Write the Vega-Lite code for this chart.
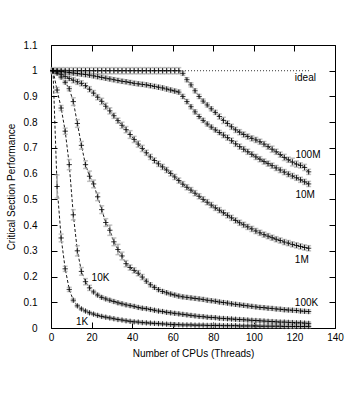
{
"$schema":"https://vega.github.io/schema/vega-lite/v6.json",
"width":284,"height":283,
"autosize":{"type":"none"},
"padding":{"left":51,"top":45,"right":17,"bottom":65},
"background":"white",
"config":{"view":{"stroke":"black","strokeWidth":1},
"font":"Liberation Sans",
"axis":{"labelFont":"Liberation Sans","labelFontSize":10,"labelColor":"black","titleFont":"Liberation Sans","titleFontSize":10,"titleFontWeight":"normal","titleColor":"black","tickColor":"black","tickSize":-6,"domain":false,"grid":false,"labelFlush":false}},
"datasets":{
"ideal":[{"x":1,"y":1},{"x":128,"y":1}],
"lab":[{"t":"ideal","x":120.2,"y":0.972},{"t":"100M","x":120.5,"y":0.673},{"t":"10M","x":120.5,"y":0.517},{"t":"1M","x":120.2,"y":0.263},{"t":"100K","x":120.2,"y":0.096},{"t":"10K","x":20,"y":0.195},{"t":"1K","x":12.3,"y":0.025}],
"d":[
{"s":"1K","x":1,"y":1,"e":0.003},{"s":"1K","x":3,"y":0.55,"e":0.045},{"s":"1K","x":5,"y":0.35,"e":0.015},{"s":"1K","x":7,"y":0.23,"e":0.01},{"s":"1K","x":9,"y":0.15,"e":0.008},{"s":"1K","x":11,"y":0.108,"e":0.006},{"s":"1K","x":13,"y":0.086,"e":0.005},{"s":"1K","x":15,"y":0.074,"e":0.005},{"s":"1K","x":17,"y":0.066,"e":0.005},{"s":"1K","x":19,"y":0.059,"e":0.005},{"s":"1K","x":21,"y":0.054,"e":0.005},{"s":"1K","x":23,"y":0.049,"e":0.005},{"s":"1K","x":25,"y":0.045,"e":0.005},{"s":"1K","x":27,"y":0.042,"e":0.005},{"s":"1K","x":29,"y":0.039,"e":0.005},{"s":"1K","x":31,"y":0.036,"e":0.005},{"s":"1K","x":33,"y":0.033,"e":0.005},{"s":"1K","x":35,"y":0.031,"e":0.005},{"s":"1K","x":37,"y":0.028,"e":0.005},{"s":"1K","x":39,"y":0.026,"e":0.005},{"s":"1K","x":41,"y":0.024,"e":0.005},{"s":"1K","x":43,"y":0.023,"e":0.005},{"s":"1K","x":45,"y":0.021,"e":0.005},{"s":"1K","x":47,"y":0.02,"e":0.005},{"s":"1K","x":49,"y":0.019,"e":0.005},{"s":"1K","x":51,"y":0.018,"e":0.005},{"s":"1K","x":53,"y":0.017,"e":0.005},{"s":"1K","x":55,"y":0.016,"e":0.005},{"s":"1K","x":57,"y":0.015,"e":0.005},{"s":"1K","x":59,"y":0.014,"e":0.006},{"s":"1K","x":61,"y":0.013,"e":0.005},{"s":"1K","x":63,"y":0.013,"e":0.005},{"s":"1K","x":65,"y":0.012,"e":0.005},{"s":"1K","x":67,"y":0.012,"e":0.005},{"s":"1K","x":69,"y":0.012,"e":0.005},{"s":"1K","x":71,"y":0.011,"e":0.005},{"s":"1K","x":73,"y":0.011,"e":0.005},{"s":"1K","x":75,"y":0.011,"e":0.005},{"s":"1K","x":77,"y":0.01,"e":0.005},{"s":"1K","x":79,"y":0.01,"e":0.006},{"s":"1K","x":81,"y":0.01,"e":0.005},{"s":"1K","x":83,"y":0.01,"e":0.005},{"s":"1K","x":85,"y":0.009,"e":0.005},{"s":"1K","x":87,"y":0.009,"e":0.005},{"s":"1K","x":89,"y":0.009,"e":0.005},{"s":"1K","x":91,"y":0.009,"e":0.005},{"s":"1K","x":93,"y":0.008,"e":0.005},{"s":"1K","x":95,"y":0.008,"e":0.005},{"s":"1K","x":97,"y":0.008,"e":0.005},{"s":"1K","x":99,"y":0.008,"e":0.006},{"s":"1K","x":101,"y":0.008,"e":0.005},{"s":"1K","x":103,"y":0.007,"e":0.005},{"s":"1K","x":105,"y":0.007,"e":0.005},{"s":"1K","x":107,"y":0.007,"e":0.005},{"s":"1K","x":109,"y":0.007,"e":0.005},{"s":"1K","x":111,"y":0.007,"e":0.005},{"s":"1K","x":113,"y":0.007,"e":0.005},{"s":"1K","x":115,"y":0.006,"e":0.005},{"s":"1K","x":117,"y":0.006,"e":0.005},{"s":"1K","x":119,"y":0.006,"e":0.006},{"s":"1K","x":121,"y":0.006,"e":0.005},{"s":"1K","x":123,"y":0.006,"e":0.005},{"s":"1K","x":125,"y":0.006,"e":0.005},{"s":"1K","x":127,"y":0.006,"e":0.005},
{"s":"10K","x":1,"y":1,"e":0.003},{"s":"10K","x":3,"y":0.925,"e":0.01},{"s":"10K","x":5,"y":0.855,"e":0.01},{"s":"10K","x":7,"y":0.765,"e":0.012},{"s":"10K","x":9,"y":0.635,"e":0.02},{"s":"10K","x":11,"y":0.44,"e":0.02},{"s":"10K","x":13,"y":0.3,"e":0.02},{"s":"10K","x":15,"y":0.22,"e":0.015},{"s":"10K","x":17,"y":0.18,"e":0.012},{"s":"10K","x":19,"y":0.156,"e":0.01},{"s":"10K","x":21,"y":0.14,"e":0.006},{"s":"10K","x":23,"y":0.128,"e":0.006},{"s":"10K","x":25,"y":0.119,"e":0.006},{"s":"10K","x":27,"y":0.113,"e":0.006},{"s":"10K","x":29,"y":0.108,"e":0.006},{"s":"10K","x":31,"y":0.103,"e":0.006},{"s":"10K","x":33,"y":0.098,"e":0.006},{"s":"10K","x":35,"y":0.094,"e":0.006},{"s":"10K","x":37,"y":0.09,"e":0.006},{"s":"10K","x":39,"y":0.087,"e":0.006},{"s":"10K","x":41,"y":0.084,"e":0.006},{"s":"10K","x":43,"y":0.08,"e":0.006},{"s":"10K","x":45,"y":0.077,"e":0.006},{"s":"10K","x":47,"y":0.075,"e":0.006},{"s":"10K","x":49,"y":0.072,"e":0.006},{"s":"10K","x":51,"y":0.069,"e":0.006},{"s":"10K","x":53,"y":0.066,"e":0.006},{"s":"10K","x":55,"y":0.064,"e":0.006},{"s":"10K","x":57,"y":0.061,"e":0.006},{"s":"10K","x":59,"y":0.059,"e":0.006},{"s":"10K","x":61,"y":0.057,"e":0.006},{"s":"10K","x":63,"y":0.055,"e":0.006},{"s":"10K","x":65,"y":0.053,"e":0.006},{"s":"10K","x":67,"y":0.051,"e":0.006},{"s":"10K","x":69,"y":0.049,"e":0.006},{"s":"10K","x":71,"y":0.047,"e":0.006},{"s":"10K","x":73,"y":0.045,"e":0.006},{"s":"10K","x":75,"y":0.044,"e":0.006},{"s":"10K","x":77,"y":0.042,"e":0.006},{"s":"10K","x":79,"y":0.041,"e":0.006},{"s":"10K","x":81,"y":0.04,"e":0.006},{"s":"10K","x":83,"y":0.038,"e":0.006},{"s":"10K","x":85,"y":0.037,"e":0.006},{"s":"10K","x":87,"y":0.036,"e":0.006},{"s":"10K","x":89,"y":0.035,"e":0.006},{"s":"10K","x":91,"y":0.034,"e":0.006},{"s":"10K","x":93,"y":0.033,"e":0.006},{"s":"10K","x":95,"y":0.032,"e":0.006},{"s":"10K","x":97,"y":0.031,"e":0.006},{"s":"10K","x":99,"y":0.03,"e":0.006},{"s":"10K","x":101,"y":0.029,"e":0.006},{"s":"10K","x":103,"y":0.028,"e":0.006},{"s":"10K","x":105,"y":0.027,"e":0.006},{"s":"10K","x":107,"y":0.026,"e":0.006},{"s":"10K","x":109,"y":0.025,"e":0.006},{"s":"10K","x":111,"y":0.024,"e":0.006},{"s":"10K","x":113,"y":0.023,"e":0.006},{"s":"10K","x":115,"y":0.023,"e":0.006},{"s":"10K","x":117,"y":0.022,"e":0.006},{"s":"10K","x":119,"y":0.021,"e":0.006},{"s":"10K","x":121,"y":0.02,"e":0.006},{"s":"10K","x":123,"y":0.02,"e":0.006},{"s":"10K","x":125,"y":0.019,"e":0.006},{"s":"10K","x":127,"y":0.018,"e":0.006},
{"s":"100K","x":1,"y":1,"e":0.004},{"s":"100K","x":3,"y":0.99,"e":0.006},{"s":"100K","x":5,"y":0.975,"e":0.006},{"s":"100K","x":7,"y":0.955,"e":0.006},{"s":"100K","x":9,"y":0.93,"e":0.008},{"s":"100K","x":11,"y":0.88,"e":0.015},{"s":"100K","x":13,"y":0.795,"e":0.015},{"s":"100K","x":15,"y":0.71,"e":0.015},{"s":"100K","x":17,"y":0.635,"e":0.015},{"s":"100K","x":19,"y":0.59,"e":0.02},{"s":"100K","x":21,"y":0.56,"e":0.015},{"s":"100K","x":23,"y":0.51,"e":0.015},{"s":"100K","x":25,"y":0.46,"e":0.015},{"s":"100K","x":27,"y":0.41,"e":0.015},{"s":"100K","x":29,"y":0.38,"e":0.02},{"s":"100K","x":31,"y":0.335,"e":0.015},{"s":"100K","x":33,"y":0.305,"e":0.02},{"s":"100K","x":35,"y":0.28,"e":0.015},{"s":"100K","x":37,"y":0.25,"e":0.012},{"s":"100K","x":39,"y":0.235,"e":0.01},{"s":"100K","x":41,"y":0.224,"e":0.01},{"s":"100K","x":43,"y":0.213,"e":0.01},{"s":"100K","x":45,"y":0.198,"e":0.01},{"s":"100K","x":47,"y":0.182,"e":0.008},{"s":"100K","x":49,"y":0.168,"e":0.008},{"s":"100K","x":51,"y":0.158,"e":0.007},{"s":"100K","x":53,"y":0.149,"e":0.007},{"s":"100K","x":55,"y":0.142,"e":0.007},{"s":"100K","x":57,"y":0.137,"e":0.007},{"s":"100K","x":59,"y":0.132,"e":0.007},{"s":"100K","x":61,"y":0.128,"e":0.007},{"s":"100K","x":63,"y":0.124,"e":0.007},{"s":"100K","x":65,"y":0.121,"e":0.007},{"s":"100K","x":67,"y":0.119,"e":0.007},{"s":"100K","x":69,"y":0.117,"e":0.007},{"s":"100K","x":71,"y":0.115,"e":0.007},{"s":"100K","x":73,"y":0.113,"e":0.007},{"s":"100K","x":75,"y":0.111,"e":0.007},{"s":"100K","x":77,"y":0.108,"e":0.007},{"s":"100K","x":79,"y":0.106,"e":0.007},{"s":"100K","x":81,"y":0.104,"e":0.007},{"s":"100K","x":83,"y":0.101,"e":0.007},{"s":"100K","x":85,"y":0.099,"e":0.007},{"s":"100K","x":87,"y":0.097,"e":0.007},{"s":"100K","x":89,"y":0.094,"e":0.007},{"s":"100K","x":91,"y":0.092,"e":0.007},{"s":"100K","x":93,"y":0.09,"e":0.007},{"s":"100K","x":95,"y":0.088,"e":0.007},{"s":"100K","x":97,"y":0.086,"e":0.007},{"s":"100K","x":99,"y":0.084,"e":0.007},{"s":"100K","x":101,"y":0.082,"e":0.007},{"s":"100K","x":103,"y":0.08,"e":0.007},{"s":"100K","x":105,"y":0.079,"e":0.007},{"s":"100K","x":107,"y":0.077,"e":0.007},{"s":"100K","x":109,"y":0.076,"e":0.007},{"s":"100K","x":111,"y":0.074,"e":0.007},{"s":"100K","x":113,"y":0.073,"e":0.007},{"s":"100K","x":115,"y":0.071,"e":0.007},{"s":"100K","x":117,"y":0.07,"e":0.007},{"s":"100K","x":119,"y":0.069,"e":0.007},{"s":"100K","x":121,"y":0.068,"e":0.007},{"s":"100K","x":123,"y":0.066,"e":0.007},{"s":"100K","x":125,"y":0.065,"e":0.007},{"s":"100K","x":127,"y":0.064,"e":0.007},
{"s":"1M","x":1,"y":1,"e":0.006},{"s":"1M","x":3,"y":0.995,"e":0.008},{"s":"1M","x":5,"y":0.986,"e":0.008},{"s":"1M","x":7,"y":0.978,"e":0.008},{"s":"1M","x":9,"y":0.97,"e":0.008},{"s":"1M","x":11,"y":0.963,"e":0.01},{"s":"1M","x":13,"y":0.957,"e":0.01},{"s":"1M","x":15,"y":0.951,"e":0.01},{"s":"1M","x":17,"y":0.942,"e":0.01},{"s":"1M","x":19,"y":0.928,"e":0.01},{"s":"1M","x":21,"y":0.913,"e":0.01},{"s":"1M","x":23,"y":0.897,"e":0.01},{"s":"1M","x":25,"y":0.881,"e":0.012},{"s":"1M","x":27,"y":0.862,"e":0.012},{"s":"1M","x":29,"y":0.844,"e":0.012},{"s":"1M","x":31,"y":0.825,"e":0.01},{"s":"1M","x":33,"y":0.806,"e":0.01},{"s":"1M","x":35,"y":0.788,"e":0.012},{"s":"1M","x":37,"y":0.771,"e":0.012},{"s":"1M","x":39,"y":0.752,"e":0.015},{"s":"1M","x":41,"y":0.733,"e":0.012},{"s":"1M","x":43,"y":0.715,"e":0.012},{"s":"1M","x":45,"y":0.698,"e":0.012},{"s":"1M","x":47,"y":0.681,"e":0.01},{"s":"1M","x":49,"y":0.665,"e":0.01},{"s":"1M","x":51,"y":0.651,"e":0.01},{"s":"1M","x":53,"y":0.638,"e":0.01},{"s":"1M","x":55,"y":0.626,"e":0.01},{"s":"1M","x":57,"y":0.614,"e":0.01},{"s":"1M","x":59,"y":0.601,"e":0.01},{"s":"1M","x":61,"y":0.587,"e":0.01},{"s":"1M","x":63,"y":0.573,"e":0.01},{"s":"1M","x":65,"y":0.559,"e":0.01},{"s":"1M","x":67,"y":0.547,"e":0.01},{"s":"1M","x":69,"y":0.536,"e":0.01},{"s":"1M","x":71,"y":0.524,"e":0.01},{"s":"1M","x":73,"y":0.512,"e":0.01},{"s":"1M","x":75,"y":0.5,"e":0.01},{"s":"1M","x":77,"y":0.489,"e":0.01},{"s":"1M","x":79,"y":0.478,"e":0.01},{"s":"1M","x":81,"y":0.467,"e":0.01},{"s":"1M","x":83,"y":0.458,"e":0.01},{"s":"1M","x":85,"y":0.448,"e":0.01},{"s":"1M","x":87,"y":0.438,"e":0.01},{"s":"1M","x":89,"y":0.428,"e":0.01},{"s":"1M","x":91,"y":0.418,"e":0.01},{"s":"1M","x":93,"y":0.409,"e":0.01},{"s":"1M","x":95,"y":0.401,"e":0.01},{"s":"1M","x":97,"y":0.393,"e":0.01},{"s":"1M","x":99,"y":0.385,"e":0.01},{"s":"1M","x":101,"y":0.377,"e":0.01},{"s":"1M","x":103,"y":0.37,"e":0.01},{"s":"1M","x":105,"y":0.363,"e":0.01},{"s":"1M","x":107,"y":0.357,"e":0.01},{"s":"1M","x":109,"y":0.351,"e":0.01},{"s":"1M","x":111,"y":0.345,"e":0.01},{"s":"1M","x":113,"y":0.34,"e":0.01},{"s":"1M","x":115,"y":0.334,"e":0.01},{"s":"1M","x":117,"y":0.33,"e":0.01},{"s":"1M","x":119,"y":0.325,"e":0.01},{"s":"1M","x":121,"y":0.321,"e":0.01},{"s":"1M","x":123,"y":0.317,"e":0.01},{"s":"1M","x":125,"y":0.313,"e":0.01},{"s":"1M","x":127,"y":0.31,"e":0.01},
{"s":"10M","x":1,"y":1,"e":0.008},{"s":"10M","x":3,"y":0.999,"e":0.008},{"s":"10M","x":5,"y":0.997,"e":0.008},{"s":"10M","x":7,"y":0.995,"e":0.008},{"s":"10M","x":9,"y":0.993,"e":0.008},{"s":"10M","x":11,"y":0.991,"e":0.008},{"s":"10M","x":13,"y":0.989,"e":0.008},{"s":"10M","x":15,"y":0.987,"e":0.008},{"s":"10M","x":17,"y":0.985,"e":0.008},{"s":"10M","x":19,"y":0.983,"e":0.008},{"s":"10M","x":21,"y":0.98,"e":0.008},{"s":"10M","x":23,"y":0.977,"e":0.008},{"s":"10M","x":25,"y":0.974,"e":0.008},{"s":"10M","x":27,"y":0.971,"e":0.008},{"s":"10M","x":29,"y":0.968,"e":0.008},{"s":"10M","x":31,"y":0.965,"e":0.008},{"s":"10M","x":33,"y":0.962,"e":0.008},{"s":"10M","x":35,"y":0.959,"e":0.008},{"s":"10M","x":37,"y":0.957,"e":0.008},{"s":"10M","x":39,"y":0.954,"e":0.008},{"s":"10M","x":41,"y":0.951,"e":0.008},{"s":"10M","x":43,"y":0.949,"e":0.008},{"s":"10M","x":45,"y":0.947,"e":0.008},{"s":"10M","x":47,"y":0.945,"e":0.008},{"s":"10M","x":49,"y":0.942,"e":0.008},{"s":"10M","x":51,"y":0.939,"e":0.008},{"s":"10M","x":53,"y":0.936,"e":0.008},{"s":"10M","x":55,"y":0.933,"e":0.008},{"s":"10M","x":57,"y":0.929,"e":0.008},{"s":"10M","x":59,"y":0.925,"e":0.008},{"s":"10M","x":61,"y":0.921,"e":0.008},{"s":"10M","x":63,"y":0.917,"e":0.008},{"s":"10M","x":65,"y":0.9,"e":0.008},{"s":"10M","x":67,"y":0.88,"e":0.008},{"s":"10M","x":69,"y":0.86,"e":0.008},{"s":"10M","x":71,"y":0.84,"e":0.008},{"s":"10M","x":73,"y":0.822,"e":0.008},{"s":"10M","x":75,"y":0.807,"e":0.008},{"s":"10M","x":77,"y":0.793,"e":0.008},{"s":"10M","x":79,"y":0.781,"e":0.008},{"s":"10M","x":81,"y":0.77,"e":0.008},{"s":"10M","x":83,"y":0.76,"e":0.008},{"s":"10M","x":85,"y":0.75,"e":0.01},{"s":"10M","x":87,"y":0.74,"e":0.01},{"s":"10M","x":89,"y":0.728,"e":0.01},{"s":"10M","x":91,"y":0.716,"e":0.01},{"s":"10M","x":93,"y":0.705,"e":0.01},{"s":"10M","x":95,"y":0.695,"e":0.01},{"s":"10M","x":97,"y":0.685,"e":0.01},{"s":"10M","x":99,"y":0.675,"e":0.01},{"s":"10M","x":101,"y":0.665,"e":0.01},{"s":"10M","x":103,"y":0.656,"e":0.01},{"s":"10M","x":105,"y":0.647,"e":0.01},{"s":"10M","x":107,"y":0.639,"e":0.01},{"s":"10M","x":109,"y":0.631,"e":0.01},{"s":"10M","x":111,"y":0.622,"e":0.01},{"s":"10M","x":113,"y":0.614,"e":0.01},{"s":"10M","x":115,"y":0.606,"e":0.01},{"s":"10M","x":117,"y":0.598,"e":0.01},{"s":"10M","x":119,"y":0.591,"e":0.01},{"s":"10M","x":121,"y":0.584,"e":0.01},{"s":"10M","x":123,"y":0.576,"e":0.01},{"s":"10M","x":125,"y":0.568,"e":0.01},{"s":"10M","x":127,"y":0.56,"e":0.01},
{"s":"100M","x":1,"y":1,"e":0.012},{"s":"100M","x":3,"y":1,"e":0.012},{"s":"100M","x":5,"y":1,"e":0.012},{"s":"100M","x":7,"y":1,"e":0.012},{"s":"100M","x":9,"y":1,"e":0.012},{"s":"100M","x":11,"y":1,"e":0.012},{"s":"100M","x":13,"y":1,"e":0.012},{"s":"100M","x":15,"y":1,"e":0.012},{"s":"100M","x":17,"y":1,"e":0.012},{"s":"100M","x":19,"y":1,"e":0.012},{"s":"100M","x":21,"y":1,"e":0.012},{"s":"100M","x":23,"y":1,"e":0.012},{"s":"100M","x":25,"y":1,"e":0.012},{"s":"100M","x":27,"y":1,"e":0.012},{"s":"100M","x":29,"y":1,"e":0.012},{"s":"100M","x":31,"y":1,"e":0.012},{"s":"100M","x":33,"y":1,"e":0.012},{"s":"100M","x":35,"y":1,"e":0.012},{"s":"100M","x":37,"y":1,"e":0.012},{"s":"100M","x":39,"y":1,"e":0.012},{"s":"100M","x":41,"y":1,"e":0.012},{"s":"100M","x":43,"y":1,"e":0.012},{"s":"100M","x":45,"y":1,"e":0.012},{"s":"100M","x":47,"y":1,"e":0.012},{"s":"100M","x":49,"y":1,"e":0.012},{"s":"100M","x":51,"y":1,"e":0.012},{"s":"100M","x":53,"y":1,"e":0.012},{"s":"100M","x":55,"y":1,"e":0.012},{"s":"100M","x":57,"y":1,"e":0.012},{"s":"100M","x":59,"y":1,"e":0.012},{"s":"100M","x":61,"y":1,"e":0.012},{"s":"100M","x":63,"y":1,"e":0.012},{"s":"100M","x":65,"y":0.99,"e":0.008},{"s":"100M","x":67,"y":0.965,"e":0.008},{"s":"100M","x":69,"y":0.945,"e":0.008},{"s":"100M","x":71,"y":0.922,"e":0.008},{"s":"100M","x":73,"y":0.9,"e":0.008},{"s":"100M","x":75,"y":0.882,"e":0.008},{"s":"100M","x":77,"y":0.867,"e":0.008},{"s":"100M","x":79,"y":0.852,"e":0.008},{"s":"100M","x":81,"y":0.838,"e":0.008},{"s":"100M","x":83,"y":0.822,"e":0.01},{"s":"100M","x":85,"y":0.807,"e":0.012},{"s":"100M","x":87,"y":0.795,"e":0.01},{"s":"100M","x":89,"y":0.782,"e":0.01},{"s":"100M","x":91,"y":0.77,"e":0.01},{"s":"100M","x":93,"y":0.761,"e":0.01},{"s":"100M","x":95,"y":0.752,"e":0.01},{"s":"100M","x":97,"y":0.744,"e":0.01},{"s":"100M","x":99,"y":0.737,"e":0.01},{"s":"100M","x":101,"y":0.731,"e":0.01},{"s":"100M","x":103,"y":0.724,"e":0.01},{"s":"100M","x":105,"y":0.715,"e":0.01},{"s":"100M","x":107,"y":0.705,"e":0.01},{"s":"100M","x":109,"y":0.695,"e":0.012},{"s":"100M","x":111,"y":0.685,"e":0.01},{"s":"100M","x":113,"y":0.674,"e":0.01},{"s":"100M","x":115,"y":0.663,"e":0.012},{"s":"100M","x":117,"y":0.654,"e":0.01},{"s":"100M","x":119,"y":0.645,"e":0.015},{"s":"100M","x":121,"y":0.637,"e":0.012},{"s":"100M","x":123,"y":0.632,"e":0.01},{"s":"100M","x":125,"y":0.624,"e":0.012},{"s":"100M","x":127,"y":0.607,"e":0.01}
]},
"layer":[
{"data":{"name":"d"},
 "mark":{"type":"line","color":"black","strokeWidth":0.9,"strokeDash":[3,2]},
 "encoding":{
  "x":{"field":"x","type":"quantitative","scale":{"domain":[0,140],"nice":false,"zero":false},
       "axis":{"values":[0,20,40,60,80,100,120,140],"labelPadding":10,"title":"Number of CPUs (Threads)","titlePadding":6}},
  "y":{"field":"y","type":"quantitative","scale":{"domain":[0,1.1],"nice":false},
       "axis":{"values":[0,0.1,0.2,0.3,0.4,0.5,0.6,0.7,0.8,0.9,1,1.1],"format":"~g","labelPadding":20,"title":"Critical Section Performance","titlePadding":7}},
  "detail":{"field":"s"}}},
{"data":{"name":"ideal"},
 "mark":{"type":"line","color":"#333","strokeWidth":1,"strokeDash":[1,2]},
 "encoding":{
  "x":{"field":"x","type":"quantitative","scale":{"domain":[0,140],"nice":false,"zero":false},
       "axis":{"orient":"top","values":[0,20,40,60,80,100,120,140],"labels":false,"title":null}},
  "y":{"field":"y","type":"quantitative","scale":{"domain":[0,1.1],"nice":false},
       "axis":{"orient":"right","values":[0,0.1,0.2,0.3,0.4,0.5,0.6,0.7,0.8,0.9,1,1.1],"labels":false,"title":null}}}},
{"data":{"name":"d"},
 "mark":{"type":"errorbar","color":"#aaaaaa","thickness":1.5,"ticks":{"size":5,"color":"#aaaaaa"}},
 "encoding":{
  "x":{"field":"x","type":"quantitative","axis":null},
  "y":{"field":"y","type":"quantitative","axis":null},
  "yError":{"field":"e"}}},
{"data":{"name":"d"},
 "mark":{"type":"point","shape":"M-1,0H1M0,-1V1","size":28,"filled":false,"stroke":"black","strokeWidth":0.8,"opacity":1},
 "encoding":{
  "x":{"field":"x","type":"quantitative","axis":null},
  "y":{"field":"y","type":"quantitative","axis":null}}},
{"data":{"name":"lab"},
 "mark":{"type":"text","align":"left","baseline":"middle","font":"Liberation Sans","fontSize":10,"color":"black"},
 "encoding":{
  "x":{"field":"x","type":"quantitative","axis":null},
  "y":{"field":"y","type":"quantitative","axis":null},
  "text":{"field":"t"}}}
],
"resolve":{"axis":{"x":"independent","y":"independent"}}
}
